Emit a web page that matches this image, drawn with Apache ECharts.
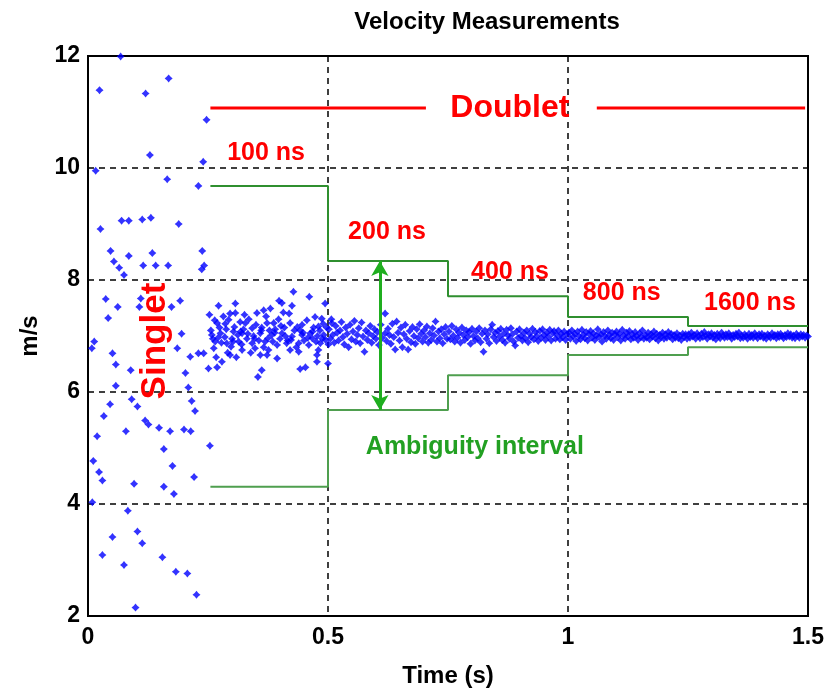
<!DOCTYPE html>
<html>
<head>
<meta charset="utf-8">
<script src="https://cdn.jsdelivr.net/npm/echarts@6/dist/echarts.min.js"></script>
<style>html,body{margin:0;padding:0;background:#fff}#c{width:834px;height:692px}</style>
</head>
<body>
<div id="c"></div>
<script>
// ---------- data ----------
const xTicks = [0, 0.5, 1, 1.5];
const yTicks = [2, 4, 6, 8, 10, 12];

const singletPoints = [
[0.068,11.99],[0.024,11.39],[0.120,11.33],[0.168,11.60],[0.247,10.86],[0.129,10.23],[0.240,10.11],[0.016,9.95],
[0.165,9.80],[0.230,9.68],[0.026,8.91],[0.070,9.06],[0.085,9.06],[0.113,9.08],[0.131,9.11],[0.189,9.00],
[0.047,8.52],[0.054,8.33],[0.085,8.43],[0.065,8.22],[0.115,8.26],[0.141,8.26],[0.167,8.26],[0.134,8.48],
[0.238,8.52],[0.242,8.26],[0.237,8.19],[0.075,8.09],[0.037,7.66],[0.042,7.32],[0.062,7.52],[0.110,7.67],
[0.107,7.52],[0.174,7.52],[0.192,7.63],[0.013,6.90],[0.008,6.78],[0.051,6.69],[0.058,6.49],[0.089,6.39],
[0.195,7.04],[0.186,6.78],[0.213,6.63],[0.230,6.69],[0.203,6.34],[0.058,6.11],[0.209,6.08],[0.046,5.78],
[0.091,5.87],[0.103,5.74],[0.216,5.84],[0.223,5.66],[0.033,5.57],[0.119,5.49],[0.126,5.42],[0.148,5.36],
[0.171,5.30],[0.200,5.33],[0.214,5.30],[0.079,5.30],[0.019,5.21],[0.158,4.98],[0.254,5.04],[0.011,4.77],
[0.176,4.68],[0.023,4.57],[0.030,4.42],[0.096,4.36],[0.158,4.31],[0.221,4.48],[0.179,4.18],[0.009,4.03],
[0.083,3.88],[0.051,3.41],[0.103,3.51],[0.113,3.30],[0.030,3.09],[0.155,3.05],[0.075,2.91],[0.183,2.79],
[0.207,2.76],[0.226,2.38],[0.099,2.15]
];

const doublet100ns = [
[0.428,7.79],[0.461,7.70],[0.398,7.63],[0.404,7.59],[0.307,7.58],[0.272,7.54],[0.425,7.54],[0.494,7.58],
[0.253,7.38],[0.307,7.41],[0.326,7.38],[0.352,7.41],[0.366,7.46],[0.380,7.49],[0.407,7.42],[0.473,7.34],
[0.487,7.31],[0.269,7.23],[0.293,7.29],[0.328,7.23],[0.342,7.14],[0.373,7.23],[0.387,7.23],[0.421,7.23],
[0.446,7.20],[0.480,7.17],[0.508,7.23],[0.276,7.05],[0.303,7.08],[0.321,7.05],[0.359,7.05],[0.383,7.02],
[0.404,7.05],[0.425,6.99],[0.446,7.02],[0.467,6.96],[0.491,7.02],[0.265,6.90],[0.289,6.87],[0.314,6.90],
[0.342,6.87],[0.369,6.90],[0.394,6.84],[0.414,6.87],[0.439,6.87],[0.460,6.84],[0.484,6.87],[0.262,6.78],
[0.298,6.81],[0.321,6.75],[0.348,6.78],[0.376,6.75],[0.421,6.75],[0.439,6.72],[0.480,6.75],[0.241,6.69],
[0.296,6.66],[0.359,6.66],[0.373,6.66],[0.394,6.60],[0.477,6.66],[0.279,6.54],[0.477,6.54],[0.251,6.42],
[0.269,6.44],[0.362,6.39],[0.442,6.41],[0.453,6.44],[0.354,6.27],
[0.256,7.10],[0.260,6.95],[0.264,7.28],[0.267,6.62],[0.274,7.15],[0.278,6.88],[0.282,7.35],[0.285,6.98],
[0.288,7.12],[0.291,6.70],[0.296,7.40],[0.300,6.95],[0.305,7.16],[0.309,6.62],[0.312,7.02],[0.317,7.25],
[0.320,6.85],[0.324,7.12],[0.331,6.95],[0.335,7.30],[0.339,6.70],[0.345,7.00],[0.350,7.20],[0.356,6.92],
[0.362,7.15],[0.366,6.80],[0.371,7.35],[0.378,7.10],[0.385,6.90],[0.390,7.12],[0.397,7.30],[0.400,6.95],
[0.409,7.15],[0.416,6.92],[0.419,7.40],[0.430,7.10],[0.434,6.80],[0.442,7.10],[0.450,6.92],[0.456,7.28],
[0.463,7.05],[0.470,7.15],[0.475,6.90],[0.483,7.10],[0.488,6.95],[0.497,7.15],[0.501,6.85],[0.500,6.51],
[0.258,7.02],[0.271,6.97],[0.286,7.22],[0.302,6.90],[0.318,7.08],[0.333,7.04],[0.347,6.95],[0.361,7.10],
[0.375,6.96],[0.389,7.06],[0.402,7.18],[0.411,7.00],[0.423,6.93],[0.436,7.16],[0.448,7.06],[0.458,6.97],
[0.468,7.08],[0.478,7.00],[0.490,7.22],[0.495,6.93]
];

const doublet200ns = [
[0.502,7.12],[0.505,6.95],[0.507,7.30],[0.510,7.02],[0.513,6.88],[0.516,7.18],[0.519,7.06],[0.522,6.92],
[0.525,7.10],[0.528,7.25],[0.531,6.98],[0.534,6.85],[0.537,7.15],[0.540,7.04],[0.543,6.80],[0.546,7.20],
[0.549,6.94],[0.552,7.08],[0.555,7.27],[0.558,6.90],[0.561,7.02],[0.564,7.14],[0.567,6.87],[0.570,7.24],
[0.573,6.99],[0.576,6.72],[0.579,7.10],[0.582,6.93],[0.585,7.05],[0.588,7.18],[0.591,6.88],[0.594,7.00],
[0.597,7.12],[0.600,6.95],[0.603,7.07],[0.606,6.84],[0.610,7.20],[0.613,6.97],[0.619,7.40],[0.619,7.05],
[0.622,6.91],[0.625,7.13],[0.628,7.02],[0.631,6.86],[0.634,7.22],[0.637,6.98],[0.640,6.76],[0.643,7.26],
[0.646,7.06],[0.649,6.92],[0.652,7.15],[0.655,6.80],[0.658,7.03],[0.661,7.20],[0.664,6.95],[0.667,6.76],
[0.670,7.09],[0.673,6.89],[0.676,7.16],[0.679,7.00],[0.682,6.86],[0.685,7.12],[0.688,6.96],[0.691,7.21],
[0.694,7.04],[0.697,6.90],[0.700,7.10],[0.703,6.98],[0.706,7.17],[0.709,6.88],[0.712,7.05],[0.715,6.93],
[0.718,7.14],[0.721,7.01],[0.724,7.26],[0.727,6.90],[0.730,7.08],[0.733,6.96],[0.736,7.12],[0.739,6.87],
[0.742,7.03],[0.745,7.16],[0.748,6.95]
];

const doublet400ns = [
[0.752,7.08],[0.755,6.94],[0.758,7.18],[0.761,7.01],[0.764,6.90],[0.767,7.12],[0.770,6.97],[0.773,7.06],
[0.776,6.88],[0.779,7.15],[0.782,7.02],[0.785,6.93],[0.788,7.10],[0.791,6.98],[0.794,7.07],[0.797,6.86],
[0.800,7.13],[0.803,7.00],[0.806,6.92],[0.809,7.08],[0.812,6.96],[0.815,7.14],[0.818,6.89],[0.821,7.04],
[0.824,6.72],[0.827,7.10],[0.830,6.95],[0.833,7.03],[0.836,6.87],[0.839,7.12],[0.842,7.20],[0.845,6.98],
[0.848,7.06],[0.851,6.91],[0.854,7.09],[0.857,6.99],[0.860,7.13],[0.863,6.93],[0.866,7.04],[0.869,6.88],
[0.872,7.11],[0.875,7.01],[0.878,6.95],[0.881,7.14],[0.884,7.03],[0.887,6.90],[0.890,6.83],[0.893,7.08],
[0.896,6.97],[0.899,7.12],[0.902,7.00],[0.905,6.92],[0.908,7.06],[0.911,6.96],[0.914,7.10],[0.917,6.89],
[0.920,7.04],[0.923,6.98],[0.926,7.13],[0.929,6.94],[0.932,7.07],[0.935,7.00],[0.938,6.91],[0.941,7.09],
[0.944,6.97],[0.947,7.12],[0.950,7.02],[0.953,6.93],[0.956,7.06],[0.959,6.99],[0.962,7.11],[0.965,6.92],
[0.968,7.05],[0.971,7.09],[0.974,6.95],[0.977,7.02],[0.980,7.10],[0.983,6.94],[0.986,7.04],[0.989,6.98],
[0.992,7.08],[0.995,6.93],[0.998,7.03]
];

const doublet800ns = [
[1.002,7.06],[1.005,6.95],[1.008,7.10],[1.011,6.99],[1.014,7.04],[1.017,6.91],[1.020,7.08],[1.023,7.00],
[1.026,6.94],[1.029,7.11],[1.032,7.02],[1.035,6.96],[1.038,7.07],[1.041,6.92],[1.044,7.03],[1.047,7.09],
[1.050,6.97],[1.053,7.05],[1.056,6.93],[1.059,7.01],[1.062,7.12],[1.065,6.98],[1.068,7.04],[1.071,6.90],
[1.074,7.07],[1.077,7.00],[1.080,6.95],[1.083,7.10],[1.086,7.02],[1.089,6.96],[1.092,7.06],[1.095,6.93],
[1.098,7.03],[1.101,7.08],[1.104,6.98],[1.107,7.04],[1.110,6.92],[1.113,7.11],[1.116,7.01],[1.119,6.95],
[1.122,7.06],[1.125,6.99],[1.128,7.09],[1.131,6.94],[1.134,7.03],[1.137,6.97],[1.140,7.07],[1.143,7.00],
[1.146,6.93],[1.149,7.05],[1.152,6.98],[1.155,7.10],[1.158,6.95],[1.161,7.02],[1.164,6.97],[1.167,7.06],
[1.170,6.94],[1.173,7.03],[1.176,6.99],[1.179,7.08],[1.182,6.96],[1.185,7.04],[1.188,6.92],[1.191,7.02],
[1.194,6.98],[1.197,7.06],[1.200,6.95],[1.203,7.03],[1.206,6.97],[1.209,7.07],[1.212,6.99],[1.215,7.04],
[1.218,6.94],[1.221,7.02],[1.224,6.97],[1.227,7.05],[1.230,6.96],[1.233,7.01],[1.236,6.93],[1.239,7.04],
[1.242,6.98],[1.245,7.03],[1.248,6.95]
];

const doublet1600ns = [
[1.251,7.03],[1.254,6.97],[1.257,7.06],[1.260,6.99],[1.263,7.02],[1.266,6.95],[1.269,7.05],[1.272,7.00],
[1.275,6.96],[1.278,7.04],[1.281,6.98],[1.284,7.07],[1.287,7.01],[1.290,6.95],[1.293,7.03],[1.296,6.99],
[1.299,7.05],[1.302,6.97],[1.305,7.02],[1.308,6.94],[1.311,7.04],[1.314,7.00],[1.317,6.96],[1.320,7.06],
[1.323,7.01],[1.326,6.97],[1.329,7.03],[1.332,6.98],[1.335,7.05],[1.338,7.00],[1.341,6.95],[1.344,7.02],
[1.347,6.98],[1.350,7.04],[1.353,6.99],[1.356,7.06],[1.359,6.96],[1.362,7.01],[1.365,6.97],[1.368,7.03],
[1.371,7.00],[1.374,6.95],[1.377,7.04],[1.380,6.98],[1.383,7.02],[1.386,6.97],[1.389,7.05],[1.392,7.00],
[1.395,6.96],[1.398,7.03],[1.401,6.99],[1.404,7.04],[1.407,6.97],[1.410,7.01],[1.413,6.95],[1.416,7.03],
[1.419,7.00],[1.422,6.97],[1.425,7.05],[1.428,6.99],[1.431,7.02],[1.434,6.96],[1.437,7.03],[1.440,6.98],
[1.443,7.04],[1.446,7.00],[1.449,6.96],[1.452,7.02],[1.455,6.98],[1.458,7.05],[1.461,6.99],[1.464,7.03],
[1.467,6.97],[1.470,7.01],[1.473,6.96],[1.476,7.04],[1.479,7.00],[1.482,6.97],[1.485,7.03],[1.488,6.99],
[1.491,7.02],[1.494,6.97],[1.497,7.01],[1.500,6.99]
];

const stepTimes   = [0.255, 0.5, 0.75, 1.0, 1.25, 1.5];
const upperLevels = [9.68, 8.34, 7.71, 7.34, 7.18];
const lowerLevels = [4.31, 5.68, 6.30, 6.66, 6.80];
const windowLabels = ['100 ns', '200 ns', '400 ns', '800 ns', '1600 ns'];

const doubletBarLeft  = [[0.255, 11.07], [0.704, 11.07]];
const doubletBarRight = [[1.060, 11.07], [1.494, 11.07]];
const ambiguityArrow  = [[0.608, 8.34], [0.608, 5.68]];

// ---------- build ----------
function stepData(levels) {
  const d = levels.map((v, i) => [stepTimes[i], v]);
  d.push([stepTimes[stepTimes.length - 1], levels[levels.length - 1]]);
  return d;
}
const doubletPoints = [].concat(doublet100ns, doublet200ns, doublet400ns, doublet800ns, doublet1600ns);

const FONT = 'Liberation Sans, Arial, sans-serif';
const starPath = 'path://M0,-10L4.5,-4.5L10,0L4.5,4.5L0,10L-4.5,4.5L-10,0L-4.5,-4.5Z';

const chart = echarts.init(document.getElementById('c'), null, {renderer: 'canvas'});
const option = {
  animation: false,
  backgroundColor: '#fff',
  title: {
    text: 'Velocity Measurements', left: 482, top: 5, textAlign: 'center',
    textStyle: {fontFamily: FONT, fontWeight: 'bold', fontSize: 24, color: '#000'}
  },
  grid: {left: 88, top: 56, width: 720, height: 560, show: true, borderColor: '#000', borderWidth: 2, backgroundColor: 'transparent'},
  xAxis: {
    type: 'value', min: 0, max: 1.5, interval: 0.5,
    axisLine: {show: true, lineStyle: {color: '#000', width: 2}},
    axisTick: {show: false},
    axisLabel: {fontFamily: FONT, fontWeight: 'bold', fontSize: 23, color: '#000', margin: 10,
      formatter: v => (xTicks.indexOf(v) >= 0 ? String(v) : '')},
    splitLine: {show: true, lineStyle: {color: '#000', width: 1.5, type: [6, 5]}}
  },
  yAxis: {
    type: 'value', min: 2, max: 12, interval: 2,
    axisLine: {show: true, lineStyle: {color: '#000', width: 2}},
    axisTick: {show: false},
    axisLabel: {fontFamily: FONT, fontWeight: 'bold', fontSize: 23, color: '#000', margin: 8,
      formatter: v => (yTicks.indexOf(v) >= 0 ? String(v) : '')},
    splitLine: {show: true, lineStyle: {color: '#000', width: 1.5, type: [6, 5]}}
  },
  series: [
    {type: 'line', data: doubletBarLeft, symbol: 'none', lineStyle: {color: '#ff0000', width: 3}, z: 3},
    {type: 'line', data: doubletBarRight, symbol: 'none', lineStyle: {color: '#ff0000', width: 3}, z: 3},
    {type: 'line', step: 'end', data: stepData(upperLevels), symbol: 'none', lineStyle: {color: '#2f8f2f', width: 2}, z: 3},
    {type: 'line', step: 'end', data: stepData(lowerLevels), symbol: 'none', lineStyle: {color: '#4f9f4f', width: 2}, z: 3},
    {type: 'scatter', data: singletPoints, symbol: starPath, symbolSize: 8, itemStyle: {color: '#0000ff'}, z: 4},
    {type: 'scatter', data: doubletPoints, symbol: starPath, symbolSize: 8, itemStyle: {color: '#0000ff'}, z: 4},
    {type: 'line', data: ambiguityArrow, symbol: 'none', lineStyle: {opacity: 0}, z: 6,
      markLine: {
        silent: true, symbol: ['arrow', 'arrow'], symbolSize: [13, 15], label: {show: false},
        lineStyle: {color: '#1fae1f', width: 3, type: 'solid'},
        data: [[{coord: ambiguityArrow[0]}, {coord: ambiguityArrow[1]}]]
      }}
  ]
};
chart.setOption(option);

// annotations, anchored in data coordinates
function px(t, v) { return chart.convertToPixel({gridIndex: 0}, [t, v]); }
const red = '#ff0000';
function txt(p, s, size, color, extra) {
  return Object.assign({type: 'text', x: p[0], y: p[1], z: 10,
    style: {text: s, fill: color, font: 'bold ' + size + 'px ' + FONT, textAlign: 'center', textVerticalAlign: 'middle'}}, extra || {});
}
const labelAnchors = [[0.371, 10.27], [0.623, 8.86], [0.879, 8.14], [1.112, 7.77], [1.379, 7.59]];
const g = [];
g.push(txt(px(0.879, 11.07), 'Doublet', 32, red));
windowLabels.forEach((s, i) => g.push(txt(px(labelAnchors[i][0], labelAnchors[i][1]), s, 25, red)));
const sp = px(0.140, 6.91);
g.push({type: 'text', x: sp[0], y: sp[1], rotation: Math.PI / 2, z: 10,
  style: {text: 'Singlet', fill: red, font: 'bold 35px ' + FONT, textAlign: 'center', textVerticalAlign: 'middle'}});
g.push(txt(px(0.806, 5.02), 'Ambiguity interval', 25, '#22a022'));
g.push(txt([448, 676], 'Time (s)', 24, '#000'));
g.push({type: 'text', x: 30, y: 336, rotation: Math.PI / 2, z: 10,
  style: {text: 'm/s', fill: '#000', font: 'bold 24px ' + FONT, textAlign: 'center', textVerticalAlign: 'middle'}});
chart.setOption({graphic: g});
</script>
</body>
</html>
